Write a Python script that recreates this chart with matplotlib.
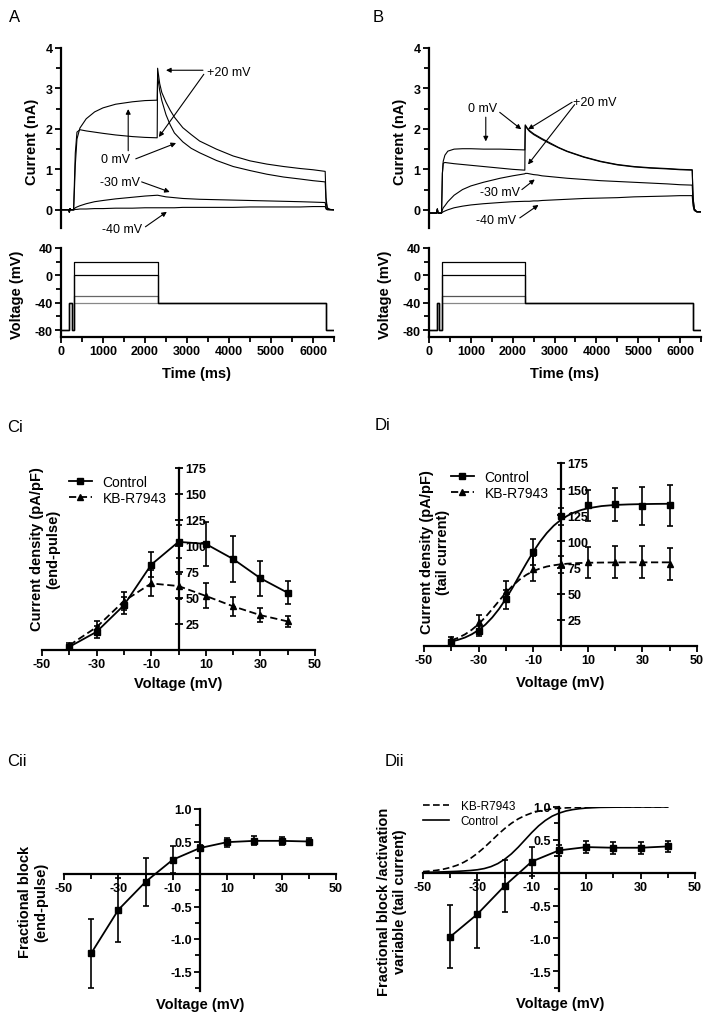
import matplotlib
matplotlib.use('Agg')
from matplotlib import pyplot as plt
from matplotlib.lines import Line2D
from matplotlib.ticker import MultipleLocator, FixedLocator, FormatStrFormatter

plt.rcParams['font.family'] = 'Liberation Sans'
plt.rcParams['font.weight'] = 'bold'
plt.rcParams['axes.unicode_minus'] = False

# ---- current traces (nA), sampled at t_ms ----
t_ms = [0, 180, 200, 215, 230, 300,
        320, 340, 380, 450, 600, 800, 1000, 1300, 1700, 2000, 2290,
        2300, 2350, 2400, 2500, 2600, 2700, 2900, 3100, 3300, 3700, 4100, 4500, 4900, 5300, 5700, 6000, 6290,
        6310, 6340, 6400, 6500]

a_p20 = [0, 0, -0.06, 0.03, 0, 0,
         0.7, 1.4, 1.92, 1.98, 1.95, 1.92, 1.89, 1.85, 1.81, 1.79, 1.78,
         3.5, 3.12, 2.9, 2.66, 2.46, 2.29, 2.03, 1.86, 1.7, 1.5, 1.33, 1.21, 1.13, 1.07, 1.02, 0.99, 0.95,
         0.3, 0.05, 0.01, 0]
a_0 = [0, 0, -0.06, 0.03, 0, 0,
       0.5, 1.1, 1.75, 2.02, 2.25, 2.42, 2.52, 2.61, 2.67, 2.7, 2.71,
       3.3, 2.95, 2.7, 2.35, 2.1, 1.9, 1.68, 1.52, 1.41, 1.22, 1.07, 0.97, 0.88, 0.81, 0.76, 0.72, 0.69,
       0.2, 0.04, 0.01, 0]
a_m30 = [0, 0, -0.06, 0.03, 0, 0,
         0.03, 0.05, 0.07, 0.1, 0.15, 0.2, 0.23, 0.27, 0.31, 0.34, 0.36,
         0.36, 0.35, 0.34, 0.32, 0.31, 0.3, 0.28, 0.27, 0.26, 0.25, 0.24, 0.23, 0.22, 0.21, 0.2, 0.19, 0.18,
         0.05, 0.01, 0, 0]
a_m40 = [0, 0, -0.06, 0.03, 0, 0,
         0.0, 0.01, 0.01, 0.02, 0.02, 0.03, 0.03, 0.04, 0.04, 0.05, 0.05,
         0.05, 0.05, 0.05, 0.05, 0.05, 0.05, 0.06, 0.06, 0.06, 0.06, 0.06, 0.07, 0.07, 0.07, 0.07, 0.08, 0.08,
         0.02, 0, 0, 0]

b_p20 = [-0.08, -0.08, 0.02, -0.08, -0.08, -0.08,
         0.9, 1.15, 1.17, 1.16, 1.14, 1.12, 1.1, 1.07, 1.03, 1.0, 0.98,
         2.1, 2.02, 1.96, 1.88, 1.82, 1.76, 1.65, 1.54, 1.45, 1.31, 1.2, 1.12, 1.07, 1.04, 1.02, 1.0, 0.99,
         0.3, 0.02, -0.05, -0.05]
b_0 = [-0.08, -0.08, 0.02, -0.08, -0.08, -0.08,
       0.9, 1.2, 1.35, 1.45, 1.5, 1.51, 1.51, 1.5, 1.5, 1.49, 1.48,
       2.08, 2.0, 1.94, 1.86, 1.8, 1.74, 1.63, 1.53, 1.44, 1.3, 1.19, 1.11, 1.06, 1.03, 1.01, 0.99, 0.98,
       0.3, 0.02, -0.05, -0.05]
b_m30 = [-0.08, -0.08, 0.02, -0.08, -0.08, -0.08,
         0.0, 0.05, 0.1, 0.2, 0.36, 0.5, 0.59, 0.68, 0.78, 0.84, 0.89,
         0.9, 0.9, 0.89, 0.87, 0.86, 0.84, 0.82, 0.8, 0.78, 0.75, 0.72, 0.7, 0.68, 0.66, 0.64, 0.62, 0.61,
         0.2, 0.0, -0.05, -0.05]
b_m40 = [-0.08, -0.08, 0.02, -0.08, -0.08, -0.08,
         -0.06, -0.05, -0.03, 0, 0.05, 0.09, 0.12, 0.15, 0.18, 0.2, 0.21,
         0.21, 0.21, 0.21, 0.22, 0.22, 0.23, 0.24, 0.25, 0.26, 0.28, 0.29, 0.3, 0.32, 0.33, 0.34, 0.35, 0.35,
         0.1, -0.02, -0.05, -0.05]

# ---- voltage protocol ----
proto_t = [0, 190, 190, 250, 250, 300, 300, 2300, 2300, 6300, 6300, 6500]
test_levels = [-40, -30, 0, 20]
holding = -80
prepulse = -40
tail_v = -40

# ---- I-V data ----
volts = [-40, -30, -20, -10, 0, 10, 20, 30, 40]
ci_ctrl = [3, 17.5, 43, 82, 104, 102, 87.5, 69, 55]
ci_ctrl_err = [2, 6, 8, 12, 16, 21, 22, 17, 11]
ci_kb = [4.5, 22, 47, 64, 61.5, 52, 42, 33.5, 27.5]
ci_kb_err = [2, 6, 9, 12.5, 12, 12, 9, 6.5, 5]

di_ctrl = [4, 14.5, 44.5, 90, 124, 134.5, 135.5, 134, 134.5]
di_ctrl_err = [2, 5, 9, 12.5, 8, 15, 16, 18, 19.5]
di_kb = [6.5, 22.5, 53, 74, 78, 80, 80.5, 80.5, 78.5]
di_kb_err = [2, 7, 9.5, 12, 8, 15, 15.5, 15.5, 15]

fit_v = [-40, -37.5, -35, -32.5, -30, -27.5, -25, -22.5, -20, -17.5, -15, -12.5, -10,
         -7.5, -5, -2.5, 0, 2.5, 5, 7.5, 10, 15, 20, 25, 30, 35, 40]
di_ctrl_fit = [4.2, 5.9, 8.1, 11.2, 15.3, 20.5, 27.3, 35.5, 45.2, 56.0, 67.7, 79.1, 90.0,
               99.8, 108.1, 115.0, 120.4, 124.5, 127.7, 130.0, 131.7, 133.8, 134.9, 135.4, 135.7, 135.9, 136.0]
di_kb_fit = [5.4, 7.8, 11.1, 15.5, 21.0, 27.7, 35.3, 43.2, 51.0, 57.7, 63.5, 68.1, 71.6,
             74.1, 76.0, 77.2, 78.1, 78.7, 79.1, 79.4, 79.6, 79.8, 79.9, 80, 80, 80, 80]

cii = [-1.22, -0.55, -0.12, 0.22, 0.40, 0.49, 0.51, 0.51, 0.50]
cii_err = [0.53, 0.49, 0.37, 0.21, 0.05, 0.07, 0.07, 0.06, 0.05]
dii = [-0.975, -0.63, -0.2, 0.17, 0.34, 0.39, 0.38, 0.38, 0.40]
dii_err = [0.48, 0.52, 0.4, 0.22, 0.08, 0.09, 0.09, 0.09, 0.09]

act_v = [-50, -47.5, -45, -42.5, -40, -37.5, -35, -32.5, -30, -27.5, -25, -22.5, -20,
         -17.5, -15, -12.5, -10, -7.5, -5, -2.5, 0, 2.5, 5, 7.5, 10, 15, 20, 25, 30, 35, 40]
act_kb = [0.017, 0.025, 0.037, 0.054, 0.079, 0.113, 0.159, 0.219, 0.295, 0.383, 0.48, 0.579, 0.671,
          0.752, 0.819, 0.87, 0.909, 0.937, 0.957, 0.97, 0.98, 0.986, 0.991, 0.994, 0.996, 0.998, 0.999, 1, 1, 1, 1]
act_ctrl = [0.005, 0.007, 0.01, 0.013, 0.017, 0.021, 0.027, 0.034, 0.045, 0.063, 0.093, 0.139, 0.204,
            0.287, 0.388, 0.5, 0.612, 0.713, 0.796, 0.861, 0.906, 0.939, 0.96, 0.974, 0.984, 0.994, 0.997, 0.999, 1, 1, 1]

W, H = 709, 1020
fig = plt.figure(figsize=(W / 100, H / 100), dpi=100)


def add_ax(left, top, right, bottom):
    return fig.add_axes([left / W, 1 - bottom / H, (right - left) / W, (bottom - top) / H])


def ftext(px, py, s, **kw):
    fig.text(px / W, 1 - py / H, s, **kw)


def style(ax):
    ax.tick_params(which='both', width=1.3, labelsize=9, pad=2)
    ax.tick_params(which='major', length=4)
    ax.tick_params(which='minor', length=3.5)
    for s in ax.spines.values():
        s.set_linewidth(1.6)


def arrow(ax, tip, base):
    ax.annotate('', xy=tip, xytext=base,
                arrowprops=dict(arrowstyle='-|>', lw=0.8, color='k', mutation_scale=7,
                                shrinkA=0, shrinkB=0))


def note(ax, x, y, s):
    ax.text(x, y, s, fontsize=9, fontweight='normal', ha='center', va='center')


def current_panel(left, right, traces):
    ax = add_ax(left, 49, right, 229)
    for tr in traces:
        ax.plot(t_ms, tr, color='k', lw=0.8)
    ax.set_xlim(0, 6500)
    ax.set_ylim(-0.45, 4)
    for side in ('top', 'right', 'bottom'):
        ax.spines[side].set_visible(False)
    ax.set_xticks([])
    ax.set_yticks([0, 1, 2, 3, 4])
    ax.yaxis.set_minor_locator(MultipleLocator(0.5))
    style(ax)
    return ax


def voltage_panel(left, right, colors):
    ax = add_ax(left, 249, right, 338)
    for lev, c in zip(test_levels, colors):
        v = [holding, holding, prepulse, prepulse, holding, holding, lev, lev,
             tail_v, tail_v, holding, holding]
        ax.plot(proto_t, v, color=c, lw=0.9)
    ax.set_xlim(0, 6500)
    ax.set_ylim(-90, 40)
    for side in ('top', 'right'):
        ax.spines[side].set_visible(False)
    ax.set_yticks([40, 0, -40, -80])
    ax.yaxis.set_minor_locator(FixedLocator([20, -20, -60]))
    ax.set_xticks(range(0, 7000, 1000))
    ax.xaxis.set_minor_locator(FixedLocator([500, 1500, 2500, 3500, 4500, 5500, 6500]))
    style(ax)
    return ax


# ---- A ----
ax = current_panel(61, 334, [a_m40, a_m30, a_0, a_p20])
note(ax, 4000, 3.41, '+20 mV')
arrow(ax, (2500, 3.45), (3380, 3.45))
arrow(ax, (2330, 1.8), (3400, 3.35))
note(ax, 1300, 1.26, '0 mV')
arrow(ax, (1600, 2.49), (1600, 1.46))
arrow(ax, (2740, 1.65), (1780, 1.26))
note(ax, 1400, 0.69, '-30 mV')
arrow(ax, (2590, 0.44), (1920, 0.69))
note(ax, 1450, -0.47, '-40 mV')
arrow(ax, (2520, -0.05), (2010, -0.42))

voltage_panel(61, 334, ['#888888', '#666666', 'k', 'k'])

# ---- B ----
ax = current_panel(429, 701, [b_m40, b_m30, b_p20, b_0])
note(ax, 1284, 2.51, '0 mV')
arrow(ax, (1357, 1.69), (1357, 2.29))
arrow(ax, (2205, 1.99), (1690, 2.41))
note(ax, 3960, 2.66, '+20 mV')
arrow(ax, (2367, 1.99), (3420, 2.66))
arrow(ax, (2367, 1.12), (3480, 2.6))
note(ax, 1690, 0.45, '-30 mV')
arrow(ax, (2527, 0.75), (2220, 0.5))
note(ax, 1600, -0.25, '-40 mV')
arrow(ax, (2617, 0.12), (2170, -0.2))

voltage_panel(429, 701, ['#888888', '#555555', 'k', 'k'])

# axis labels and panel letters for A and B
for x0 in (0, 368):
    ftext(32 + x0, 142, 'Current (nA)', rotation=90, ha='center', va='center', fontsize=10.5)
    ftext(17 + x0, 295, 'Voltage (mV)', rotation=90, ha='center', va='center', fontsize=10.5)
ftext(197, 374, 'Time (ms)', ha='center', va='center', fontsize=10.5)
ftext(565, 374, 'Time (ms)', ha='center', va='center', fontsize=10.5)


def iv_axes(ax):
    ax.set_xlim(-50, 50)
    ax.set_ylim(0, 175)
    ax.spines['right'].set_position(('data', 0))
    ax.spines['left'].set_visible(False)
    ax.spines['top'].set_visible(False)
    ax.yaxis.set_ticks_position('right')
    ax.set_yticks([25, 50, 75, 100, 125, 150, 175])
    ax.set_xticks([-50, -30, -10, 10, 30, 50])
    ax.xaxis.set_minor_locator(FixedLocator([-40, -20, 0, 20, 40]))
    style(ax)
    ax.tick_params(axis='y', which='major', direction='inout', length=6)


def err(ax, x, y, e):
    ax.errorbar(x, y, yerr=e, fmt='none', ecolor='k', elinewidth=1.2, capsize=2.5, capthick=1.2)


leg_prop = dict(size=10, weight='normal')

# ---- Ci ----
ax = add_ax(42, 469, 315, 651)
err(ax, volts, ci_ctrl, ci_ctrl_err)
err(ax, volts, ci_kb, ci_kb_err)
ax.plot(volts, ci_ctrl, '-s', color='k', lw=1.3, ms=4.5, label='Control')
ax.plot(volts, ci_kb, '--^', color='k', lw=1.3, ms=4.5, dashes=(4, 2), label='KB-R7943')
iv_axes(ax)
ax.legend(loc='upper left', bbox_to_anchor=(0.1, 0.96), frameon=False, prop=leg_prop,
          handlelength=1.6, handletextpad=0.8, labelspacing=0.1, borderaxespad=0, borderpad=0)

# ---- Di ----
ax = add_ax(424, 464, 697, 647)
err(ax, volts, di_ctrl, di_ctrl_err)
err(ax, volts, di_kb, di_kb_err)
ax.plot(fit_v, di_ctrl_fit, '-', color='k', lw=1.3)
ax.plot(fit_v, di_kb_fit, '--', color='k', lw=1.3, dashes=(4, 2))
ax.plot(volts, di_ctrl, 's', color='k', ms=4.5)
ax.plot(volts, di_kb, '^', color='k', ms=4.5)
iv_axes(ax)
handles = [Line2D([], [], color='k', ls='-', marker='s', ms=4.5, lw=1.3),
           Line2D([], [], color='k', ls='--', dashes=(4, 2), marker='^', ms=4.5, lw=1.3)]
ax.legend(handles, ['Control', 'KB-R7943'], loc='upper left', bbox_to_anchor=(0.1, 0.96),
          frameon=False, prop=leg_prop, handlelength=1.6, handletextpad=0.8,
          labelspacing=0.1, borderaxespad=0, borderpad=0)


def block_axes(ax):
    ax.set_xlim(-50, 50)
    ax.set_ylim(-1.8, 1.0)
    ax.spines['left'].set_position(('data', 0))
    ax.spines['bottom'].set_position(('data', 0))
    ax.spines['right'].set_visible(False)
    ax.spines['top'].set_visible(False)
    ax.set_yticks([-1.5, -1.0, -0.5, 0.5, 1.0])
    ax.yaxis.set_major_formatter(FormatStrFormatter('%.1f'))
    ax.yaxis.set_minor_locator(FixedLocator([-1.75, -1.25, -0.75, -0.25, 0.25, 0.75]))
    ax.set_xticks([-50, -30, -10, 10, 30, 50])
    ax.xaxis.set_minor_locator(FixedLocator([-40, -20, 0, 20, 40]))
    style(ax)


# ---- Cii ----
ax = add_ax(64, 810, 336, 992)
err(ax, volts, cii, cii_err)
ax.plot(volts, cii, '-s', color='k', lw=1.3, ms=4.5)
block_axes(ax)

# ---- Dii ----
ax = add_ax(423, 808, 695, 992)
ax.plot(act_v, act_kb, '--', color='k', lw=1.2, dashes=(4, 2), label='KB-R7943')
ax.plot(act_v, act_ctrl, '-', color='k', lw=1.2, label='Control')
err(ax, volts, dii, dii_err)
ax.plot(volts, dii, '-s', color='k', lw=1.3, ms=4.5)
block_axes(ax)
ax.legend(loc='upper left', bbox_to_anchor=(0.0, 1.04), frameon=False,
          prop=dict(size=8.5, weight='normal'), handlelength=2.2, handletextpad=1.0,
          labelspacing=0.3, borderaxespad=0, borderpad=0)

# labels for C/D
ftext(45, 549, 'Current density (pA/pF)\n(end-pulse)', rotation=90, ha='center', va='center',
      fontsize=10.5, multialignment='center')
ftext(435, 552, 'Current density (pA/pF)\n(tail current)', rotation=90, ha='center', va='center',
      fontsize=10.5, multialignment='center')
ftext(33, 902, 'Fractional block\n(end-pulse)', rotation=90, ha='center', va='center',
      fontsize=10.5, multialignment='center')
ftext(392, 902, 'Fractional block /activation\nvariable (tail current)', rotation=90,
      ha='center', va='center', fontsize=10.5, multialignment='center')
ftext(178, 684, 'Voltage (mV)', ha='center', va='center', fontsize=10.5)
ftext(560, 683, 'Voltage (mV)', ha='center', va='center', fontsize=10.5)
ftext(200, 1005, 'Voltage (mV)', ha='center', va='center', fontsize=10.5)
ftext(560, 1004, 'Voltage (mV)', ha='center', va='center', fontsize=10.5)

# panel letters
for px, py, s in [(9, 18, 'A'), (373, 18, 'B'), (7, 428, 'Ci'), (375, 425, 'Di'),
                  (7, 762, 'Cii'), (385, 761, 'Dii')]:
    ftext(px, py, s, ha='left', va='center', fontsize=12, fontweight='normal')

fig.savefig('out.png', dpi=100)
